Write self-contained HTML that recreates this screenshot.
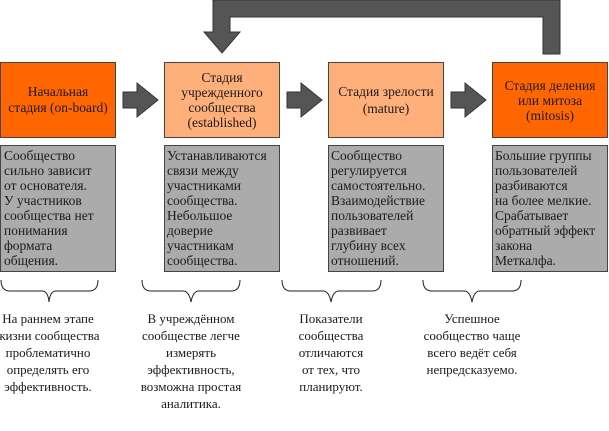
<!DOCTYPE html>
<html><head><meta charset="utf-8"><style>
html,body{margin:0;padding:0;background:#fff;font-family:"Liberation Serif","DejaVu Serif",serif;}
svg{display:block}
svg text{font-family:"Liberation Serif","DejaVu Serif",serif !important;fill:#1a1a1a}
.h{font-size:13.5px;text-anchor:middle}
.g{font-size:13.5px}
.b{font-size:13px;text-anchor:middle}
</style></head><body>
<svg width="609" height="431" viewBox="0 0 609 431" font-family="Liberation Serif, DejaVu Serif, serif">
<path d="M213,0 H560 V54 H543 V17 H230 V32 H240 L222,53 L204,32 H213 Z" fill="#555" stroke="#333" stroke-width="1"/>
<g fill="#555" stroke="#333" stroke-width="1">
<path d="M123,92 H137 V83 L158,100 L137,117 V108 H123 Z"/>
<path d="M287,92 H301 V83 L322,100 L301,117 V108 H287 Z"/>
<path d="M451,92 H465 V83 L486,100 L465,117 V108 H451 Z"/>
</g>
<g stroke="#444" stroke-width="1">
<rect x="0.5" y="62.5" width="115" height="75" fill="#ff6600"/>
<rect x="164.5" y="62.5" width="115" height="75" fill="#ffb07a"/>
<rect x="328.5" y="62.5" width="115" height="75" fill="#ffb07a"/>
<rect x="492.5" y="62.5" width="115" height="75" fill="#ff6600"/>
<rect x="0.5" y="145.5" width="115" height="126" fill="#ababab"/>
<rect x="164.5" y="145.5" width="115" height="126" fill="#ababab"/>
<rect x="328.5" y="145.5" width="115" height="126" fill="#ababab"/>
<rect x="492.5" y="145.5" width="115" height="126" fill="#ababab"/>
</g>
<text class="h" x="58" y="96">Начальная</text>
<text class="h" x="58" y="112">стадия (on-board)</text>
<text class="h" x="222" y="82">Стадия</text>
<text class="h" x="222" y="97">учрежденного</text>
<text class="h" x="222" y="112">сообщества</text>
<text class="h" x="222" y="127">(established)</text>
<text class="h" x="386" y="96">Стадия зрелости</text>
<text class="h" x="386" y="113">(mature)</text>
<text class="h" x="550" y="90">Стадия деления</text>
<text class="h" x="550" y="105">или митоза</text>
<text class="h" x="550" y="120">(mitosis)</text>

<text class="g" x="4" y="160">Сообщество</text>
<text class="g" x="4" y="175">сильно зависит</text>
<text class="g" x="4" y="190">от основателя.</text>
<text class="g" x="4" y="205">У участников</text>
<text class="g" x="4" y="220">сообщества нет</text>
<text class="g" x="4" y="235">понимания</text>
<text class="g" x="4" y="250">формата</text>
<text class="g" x="4" y="265">общения.</text>

<text class="g" x="167" y="160">Устанавливаются</text>
<text class="g" x="167" y="175">связи между</text>
<text class="g" x="167" y="190">участниками</text>
<text class="g" x="167" y="205">сообщества.</text>
<text class="g" x="167" y="220">Небольшое</text>
<text class="g" x="167" y="235">доверие</text>
<text class="g" x="167" y="250">участникам</text>
<text class="g" x="167" y="265">сообщества.</text>

<text class="g" x="331" y="160">Сообщество</text>
<text class="g" x="331" y="175">регулируется</text>
<text class="g" x="331" y="190">самостоятельно.</text>
<text class="g" x="331" y="205">Взаимодействие</text>
<text class="g" x="331" y="220">пользователей</text>
<text class="g" x="331" y="235">развивает</text>
<text class="g" x="331" y="250">глубину всех</text>
<text class="g" x="331" y="265">отношений.</text>

<text class="g" x="495" y="160">Большие группы</text>
<text class="g" x="495" y="175">пользователей</text>
<text class="g" x="495" y="190">разбиваются</text>
<text class="g" x="495" y="205">на более мелкие.</text>
<text class="g" x="495" y="220">Срабатывает</text>
<text class="g" x="495" y="235">обратный эффект</text>
<text class="g" x="495" y="250">закона</text>
<text class="g" x="495" y="265">Меткалфа.</text>

<g fill="none" stroke="#222" stroke-width="1">
<path d="M1,280 Q1,291 10,291 H42 Q48,291 49,302 Q50,291 56,291 H89 Q98,291 98,280"/>
<path d="M142,280 Q142,291 151,291 H183 Q189,291 191,302 Q193,291 199,291 H231 Q240,291 240,280"/>
<path d="M282,280 Q282,291 291,291 H323 Q329,291 331,302 Q333,291 339,291 H372 Q381,291 381,280"/>
<path d="M423,280 Q423,291 432,291 H464 Q470,291 472,302 Q474,291 480,291 H512 Q521,291 521,280"/>
</g>

<text class="b" x="48" y="323">На раннем этапе</text>
<text class="b" x="48" y="340">жизни сообщества</text>
<text class="b" x="48" y="357">проблематично</text>
<text class="b" x="48" y="374">определять его</text>
<text class="b" x="48" y="391">эффективность.</text>

<text class="b" x="191" y="323">В учреждённом</text>
<text class="b" x="191" y="340">сообществе легче</text>
<text class="b" x="191" y="357">измерять</text>
<text class="b" x="191" y="374">эффективность,</text>
<text class="b" x="191" y="391">возможна простая</text>
<text class="b" x="191" y="408">аналитика.</text>

<text class="b" x="331" y="323">Показатели</text>
<text class="b" x="331" y="340">сообщества</text>
<text class="b" x="331" y="357">отличаются</text>
<text class="b" x="331" y="374">от тех, что</text>
<text class="b" x="331" y="391">планируют.</text>

<text class="b" x="472" y="323">Успешное</text>
<text class="b" x="472" y="340">сообщество чаще</text>
<text class="b" x="472" y="357">всего ведёт себя</text>
<text class="b" x="472" y="374">непредсказуемо.</text>
</svg>
</body></html>
